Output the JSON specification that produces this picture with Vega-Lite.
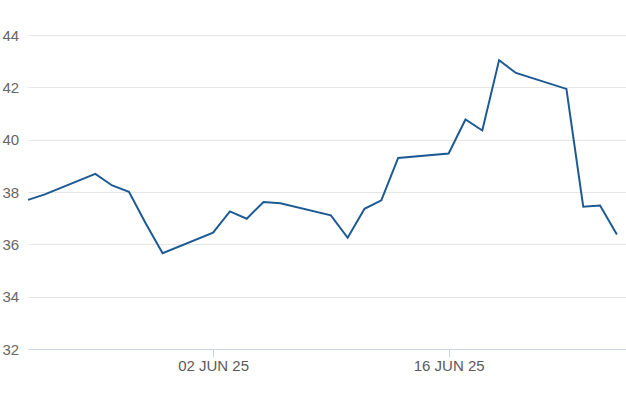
{
  "$schema": "https://vega.github.io/schema/vega-lite/v6.json",
  "autosize": {"type": "none"},
  "width": 598,
  "height": 314,
  "padding": {"left": 28, "top": 35, "right": 0, "bottom": 68},
  "background": "white",
  "config": {
    "view": {"stroke": null},
    "font": "Liberation Sans"
  },
  "data": {
    "values": [
      {"date": "2025-05-22", "value": 37.70},
      {"date": "2025-05-23", "value": 37.91},
      {"date": "2025-05-26", "value": 38.69},
      {"date": "2025-05-27", "value": 38.25},
      {"date": "2025-05-28", "value": 38.01},
      {"date": "2025-05-29", "value": 36.80},
      {"date": "2025-05-30", "value": 35.66},
      {"date": "2025-06-02", "value": 36.45},
      {"date": "2025-06-03", "value": 37.26},
      {"date": "2025-06-04", "value": 36.98},
      {"date": "2025-06-05", "value": 37.62},
      {"date": "2025-06-06", "value": 37.57},
      {"date": "2025-06-09", "value": 37.11},
      {"date": "2025-06-10", "value": 36.25},
      {"date": "2025-06-11", "value": 37.36},
      {"date": "2025-06-12", "value": 37.68},
      {"date": "2025-06-13", "value": 39.30},
      {"date": "2025-06-16", "value": 39.47},
      {"date": "2025-06-17", "value": 40.77},
      {"date": "2025-06-18", "value": 40.35},
      {"date": "2025-06-19", "value": 43.04},
      {"date": "2025-06-20", "value": 42.55},
      {"date": "2025-06-23", "value": 41.94},
      {"date": "2025-06-24", "value": 37.44},
      {"date": "2025-06-25", "value": 37.48},
      {"date": "2025-06-26", "value": 36.38}
    ]
  },
  "mark": {"type": "line", "color": "#1d5a94", "strokeWidth": 2, "strokeJoin": "miter"},
  "encoding": {
    "x": {
      "field": "date",
      "type": "temporal",
      "scale": {"type": "utc", "domain": [{"year": 2025, "month": 5, "date": 22, "utc": true}, {"year": 2025, "month": 6, "date": 26, "hours": 13, "utc": true}]},
      "axis": {
        "title": null,
        "grid": false,
        "values": [{"year": 2025, "month": 6, "date": 2, "utc": true}, {"year": 2025, "month": 6, "date": 16, "utc": true}],
        "labelExpr": "upper(utcFormat(datum.value, '%d %b %y'))",
        "domainColor": "#ccd6e0",
        "domainWidth": 1,
        "tickColor": "#ccd6e0",
        "tickSize": 8,
        "labelPadding": 1,
        "labelFontSize": 15,
        "labelColor": "#5a5a5a",
        "labelFont": "Liberation Sans"
      }
    },
    "y": {
      "field": "value",
      "type": "quantitative",
      "scale": {"domain": [32, 44], "nice": false, "zero": false},
      "axis": {
        "title": null,
        "values": [32, 34, 36, 38, 40, 42, 44],
        "domain": false,
        "ticks": false,
        "tickSize": 0,
        "labelPadding": 26,
        "labelAlign": "left",
        "labelBaseline": "middle",
        "labelFontSize": 15,
        "labelColor": "#666666",
        "labelFont": "Liberation Sans",
        "gridColor": "#e6e6e6",
        "gridWidth": 1
      }
    }
  }
}
